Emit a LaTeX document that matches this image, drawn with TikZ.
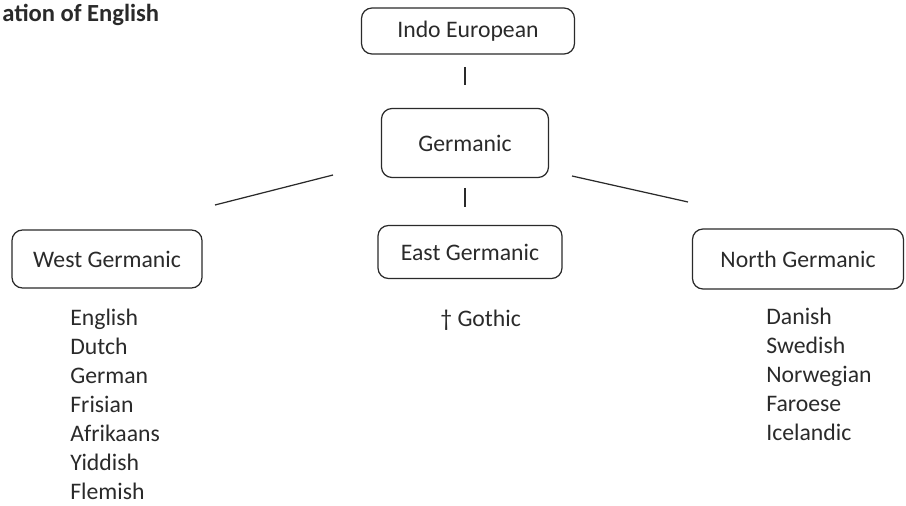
\documentclass[tikz,border=0pt]{standalone}
\usepackage{fontspec}
\setmainfont{Carlito}
\usepackage{tikz}
\definecolor{ink}{HTML}{2A2A2A}
\tikzstyle{family}=[draw=ink, rounded corners=6pt, line width=0.7pt, text=ink, font=\fontsize{13.5}{16}\selectfont, inner sep=0pt]
\tikzstyle{langs}=[text=ink, align=left, anchor=north west, inner sep=0pt, font=\fontsize{13.5}{16.5}\selectfont]
\tikzstyle{branch}=[draw=ink, line width=0.7pt]

\begin{document}
\begin{tikzpicture}[x=0.02cm, y=-0.02cm]
				\useasboundingbox (0,0) rectangle (906,506);
				\node[anchor=west, inner sep=0pt, text=ink, font=\bfseries\fontsize{14}{16}\selectfont] (title) at (2,15) {ation of English};
				\node[family, minimum width=213*0.02cm, minimum height=46*0.02cm] (ie) at (468,31) {Indo European};
				\node[family, minimum width=167*0.02cm, minimum height=69*0.02cm] (germ) at (465,143) {Germanic};
				\node[family, minimum width=190*0.02cm, minimum height=58*0.02cm] (west) at (107,259) {West Germanic};
				\node[family, minimum width=184*0.02cm, minimum height=53*0.02cm] (east) at (470,252) {East Germanic};
				\node[family, minimum width=211*0.02cm, minimum height=60*0.02cm] (north) at (798,259) {North Germanic};
				% short strokes between the boxes
				\coordinate (ie1) at (465,67);
				\coordinate (ie2) at (465,85);
				\coordinate (ge1) at (465,188);
				\coordinate (ge2) at (465,207);
				\coordinate (gw) at (333,175);
				\coordinate (ww) at (215,205);
				\coordinate (gn) at (572,176);
				\coordinate (nn) at (688,202);
				\path[branch] (ie1) -- (ie2);
				\path[branch] (ge1) -- (ge2);
				\path[branch] (gw) -- (ww);
				\path[branch] (gn) -- (nn);
				\node[langs] (wlist) at (70,309) {English\\Dutch\\German\\Frisian\\Afrikaans\\Yiddish\\Flemish};
				\node[langs] (goth) at (440,310) {† Gothic};
				\node[langs] (nlist) at (766,308) {Danish\\Swedish\\Norwegian\\Faroese\\Icelandic};
			\end{tikzpicture}
\end{document}
